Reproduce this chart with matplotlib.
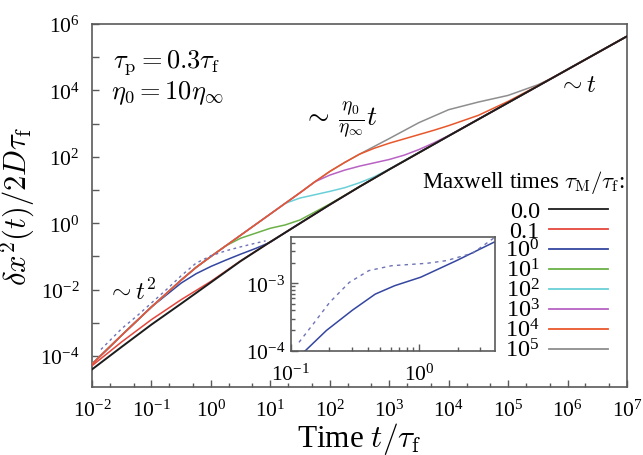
import numpy as np
import matplotlib
matplotlib.use('Agg')
import matplotlib.pyplot as plt
from matplotlib.ticker import FixedLocator, LogLocator, FuncFormatter, NullFormatter

plt.rcParams['font.family'] = ['Liberation Serif', 'DejaVu Serif']
plt.rcParams['mathtext.fontset'] = 'cm'

# log10(t/tau_f) and log10(MSD) along each curve
black_lt = [-2, -1.5, -1, -0.5, 0, 0.5, 1, 1.5, 2, 2.5, 3, 4, 5, 6, 7]
black_ly = [-4.4, -3.72, -3.05, -2.42, -1.78, -1.14, -0.56, 0.0, 0.56, 1.1, 1.62, 2.63, 3.63, 4.63, 5.63]

red_lt = [-2, -1.5, -1, -0.5, 0, 0.5]
red_ly = [-4.29, -3.57, -2.9, -2.3, -1.75, -1.13]

# common early part of the slow-relaxing fluids
group_lt = [-2, -1.5, -1, -0.5, -0.25, 0, 0.25, 0.5, 0.75, 1, 1.25, 1.5, 1.75, 2, 2.25, 2.5]
group_ly = [-4.24, -3.37, -2.52, -1.71, -1.33, -1.0, -0.68, -0.36, -0.04, 0.28, 0.6, 0.92, 1.25, 1.56, 1.83, 2.08]

blue_lt = [-0.5, -0.25, 0, 0.25, 0.5, 0.75, 1.0]
blue_ly = [-1.8, -1.52, -1.3, -1.11, -0.93, -0.76, -0.57]

green_lt = [0.5, 0.75, 1, 1.25, 1.5, 1.75, 2]
green_ly = [-0.45, -0.3, -0.15, -0.05, 0.1, 0.34, 0.58]

cyan_lt = [1.5, 1.75, 2, 2.25, 2.5, 2.75, 3]
cyan_ly = [0.76, 0.86, 0.96, 1.07, 1.22, 1.4, 1.63]

purple_lt = [2, 2.25, 2.5, 2.75, 3, 3.25, 3.5, 3.75, 4]
purple_ly = [1.45, 1.6, 1.72, 1.82, 1.92, 2.05, 2.22, 2.42, 2.64]

orange_lt = [2.75, 3, 3.25, 3.5, 3.75, 4, 4.5, 5, 5.5, 6]
orange_ly = [2.26, 2.41, 2.54, 2.67, 2.8, 2.94, 3.25, 3.67, 4.14, 4.63]

gray_lt = [3, 3.5, 4, 4.5, 5, 5.5, 5.75, 6]
gray_ly = [2.55, 3.03, 3.42, 3.65, 3.85, 4.17, 4.38, 4.64]

dotted_lt = [-1.85, -1.5, -1.25, -1, -0.75, -0.5, -0.25, 0, 0.25, 0.5, 0.75, 0.92]
dotted_ly = [-3.8, -3.17, -2.8, -2.4, -2.0, -1.58, -1.2, -0.98, -0.83, -0.71, -0.6, -0.53]

# inset: tau_M = 1 curve and reference (dashed)
inset_t = [0.12, 0.13, 0.19, 0.303, 0.455, 0.645, 1.03, 1.96, 3.83]
inset_y = [9.0e-5, 1.0e-4, 2.0e-4, 4.0e-4, 6.9e-4, 9.2e-4, 1.23e-3, 2.17e-3, 4.06e-3]
inset_dash_t = [0.116, 0.150, 0.201, 0.286, 0.406, 0.61, 1.16, 1.64, 2.62, 3.83]
inset_dash_y = [1.33e-4, 2.5e-4, 5.2e-4, 1.03e-3, 1.54e-3, 1.82e-3, 1.98e-3, 2.17e-3, 2.8e-3, 4.7e-3]

labels = ['0.0', '0.1', r'$\mathregular{10^{0}}$', r'$\mathregular{10^{1}}$',
          r'$\mathregular{10^{2}}$', r'$\mathregular{10^{3}}$',
          r'$\mathregular{10^{4}}$', r'$\mathregular{10^{5}}$']
colors = ['#1c1c1c', '#e5463c', '#3446a0', '#6bb148', '#6ad0d8', '#b862c4', '#e8572b', '#8e8e8e']


def join(head_lt, head_ly, tail_lt, tail_ly):
    # continue a curve with the tail of another one after it merges
    lt = list(head_lt) + [t for t in tail_lt if t > head_lt[-1]]
    ly = list(head_ly) + [y for t, y in zip(tail_lt, tail_ly) if t > head_lt[-1]]
    return lt, ly


def upto(lt, ly, tmax):
    return [t for t in lt if t <= tmax], [y for t, y in zip(lt, ly) if t <= tmax]


curves = []
curves.append((black_lt, black_ly))
curves.append(join(red_lt, red_ly, black_lt, black_ly))
g = upto(group_lt, group_ly, -0.75)
curves.append(join(*join(g[0], g[1], blue_lt, blue_ly), black_lt, black_ly))
g = upto(group_lt, group_ly, 0.25)
curves.append(join(*join(g[0], g[1], green_lt, green_ly), black_lt, black_ly))
g = upto(group_lt, group_ly, 1.25)
curves.append(join(*join(g[0], g[1], cyan_lt, cyan_ly), black_lt, black_ly))
g = upto(group_lt, group_ly, 1.75)
curves.append(join(*join(g[0], g[1], purple_lt, purple_ly), black_lt, black_ly))
curves.append(join(*join(group_lt, group_ly, orange_lt, orange_ly), black_lt, black_ly))
curves.append(join(*join(group_lt, group_ly, gray_lt, gray_ly), black_lt, black_ly))

fig = plt.figure(figsize=(6.43, 4.56), dpi=100)
ax = fig.add_axes([0.1431, 0.1491, 0.8320, 0.7961])

zorders = [10, 9, 3, 4, 5, 6, 7, 2]
for (lt, ly), c, z in zip(curves, colors, zorders):
    ax.plot(10.0 ** np.array(lt), 10.0 ** np.array(ly), color=c,
            lw=1.4 if z == 10 else 1.1, zorder=z)
ax.plot(10.0 ** np.array(dotted_lt), 10.0 ** np.array(dotted_ly), color='#6d73b5',
        lw=1.0, dashes=(2.0, 2.5), zorder=8)

ax.set_xscale('log')
ax.set_yscale('log')
ax.set_xlim(1e-2, 1e7)
ax.set_ylim(10 ** -4.93, 1e6)

spine_c = '#5a5a5a'
for s in ax.spines.values():
    s.set_color(spine_c)
    s.set_linewidth(1.2)


def pow10(v, pos):
    return r'$\mathregular{10^{%d}}$' % int(round(np.log10(v)))


def pow10_even(v, pos):
    e = int(round(np.log10(v)))
    return r'$\mathregular{10^{%d}}$' % e if e % 2 == 0 else ''


ax.xaxis.set_major_locator(FixedLocator([10.0 ** e for e in range(-2, 8)]))
ax.xaxis.set_minor_locator(LogLocator(base=10, subs=(2, 5), numticks=30))
ax.xaxis.set_major_formatter(FuncFormatter(pow10))
ax.xaxis.set_minor_formatter(NullFormatter())
ax.yaxis.set_major_locator(FixedLocator([10.0 ** e for e in range(-4, 7)]))
ax.yaxis.set_minor_locator(FixedLocator([]))
ax.yaxis.set_major_formatter(FuncFormatter(pow10_even))
ax.tick_params(which='both', direction='in', color=spine_c, width=1.0,
               top=False, right=False, labelsize=15.5)
ax.tick_params(which='major', length=5)
ax.tick_params(which='minor', length=3)
ax.tick_params(axis='x', pad=9)
ax.tick_params(axis='y', pad=9)

ax.set_xlabel(r'Time $t/\tau_{\rm f}$', fontsize=22.5)
ax.xaxis.set_label_coords(0.5, -0.09)
ax.set_ylabel(r'$\delta x^2(t)/2D\tau_{\rm f}$', fontsize=22)
ax.yaxis.set_label_coords(-0.102, 0.5)

ax.text(0.039, 0.898, r'$\tau_{\rm p}=0.3\tau_{\rm f}$', transform=ax.transAxes,
        fontsize=19, va='center', ha='left')
ax.text(0.036, 0.813, r'$\eta_0=10\eta_\infty$', transform=ax.transAxes,
        fontsize=19, va='center', ha='left')
ax.text(0.028, 0.264, r'$\sim t^2$', transform=ax.transAxes,
        fontsize=18, va='center', ha='left')
ax.text(0.394, 0.738, r'$\sim\,\frac{\eta_0}{\eta_\infty}t$', transform=ax.transAxes,
        fontsize=20, va='center', ha='left')
ax.text(0.871, 0.832, r'$\sim t$', transform=ax.transAxes,
        fontsize=18, va='center', ha='left')

# legend drawn as a right-aligned column
ax.text(0.996, 0.567, r'Maxwell times $\tau_{\rm M}/\tau_{\rm f}$:', transform=ax.transAxes,
        fontsize=16.5, ha='right', va='center')
row0 = 0.490
step = 0.0551
for i, (lab, c) in enumerate(zip(labels, colors)):
    yr = row0 - i * step
    ax.plot([0.854, 0.964], [yr, yr], transform=ax.transAxes, color=c, lw=1.3,
            clip_on=False, zorder=12)
    ax.text(0.837, yr - 0.021, lab, transform=ax.transAxes, fontsize=17.5,
            ha='right', va='baseline')

# inset
axi = fig.add_axes([0.4521, 0.2287, 0.3177, 0.25])
axi.set_facecolor('white')
axi.plot(inset_t, inset_y, color='#3446a0', lw=1.1)
axi.plot(inset_dash_t, inset_dash_y, color='#6d73b5', lw=1.0, dashes=(2.5, 3.0))
axi.set_xscale('log')
axi.set_yscale('log')
axi.set_xlim(0.1, 3.9)
axi.set_ylim(1e-4, 4.9e-3)
for s in axi.spines.values():
    s.set_color(spine_c)
    s.set_linewidth(1.2)
axi.xaxis.set_major_locator(FixedLocator([0.1, 1.0]))
axi.xaxis.set_major_formatter(FuncFormatter(pow10))
axi.xaxis.set_minor_locator(LogLocator(base=10, subs=np.arange(2, 10), numticks=10))
axi.xaxis.set_minor_formatter(NullFormatter())
axi.yaxis.set_major_locator(FixedLocator([1e-4, 1e-3]))
axi.yaxis.set_major_formatter(FuncFormatter(pow10))
axi.yaxis.set_minor_locator(LogLocator(base=10, subs=np.arange(2, 10), numticks=10))
axi.yaxis.set_minor_formatter(NullFormatter())
axi.tick_params(which='both', direction='in', color=spine_c, width=1.0,
                top=False, right=False, labelsize=15.5)
axi.tick_params(which='major', length=5)
axi.tick_params(which='minor', length=3)
axi.tick_params(axis='x', pad=9)
axi.tick_params(axis='y', pad=4)

fig.savefig('out.png', dpi=100)
